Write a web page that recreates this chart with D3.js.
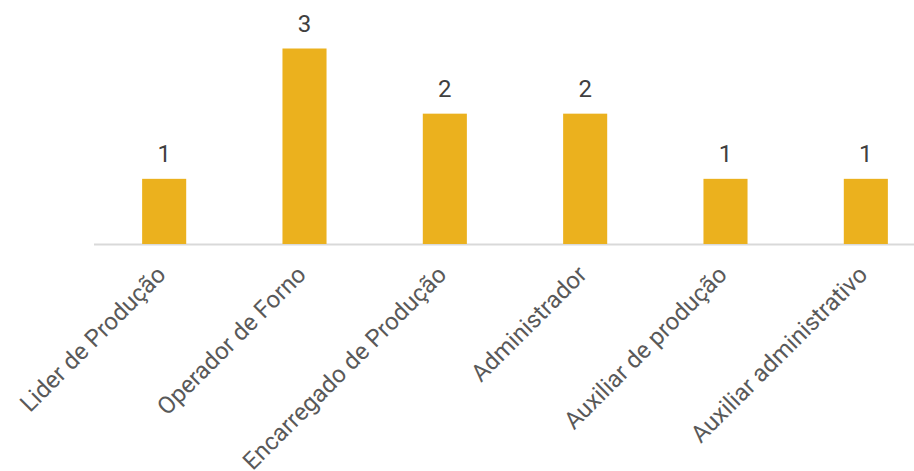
<!DOCTYPE html>
<html>
<head>
<meta charset="utf-8">
<script src="https://cdn.jsdelivr.net/npm/d3@7"></script>
<style>
  html, body { margin: 0; padding: 0; background: #fff; }
  svg { display: block; }
</style>
</head>
<body>
<svg id="chart" width="914" height="471"></svg>
<script>
const categories = ["Lider de Produção", "Operador de Forno", "Encarregado de Produção", "Administrador", "Auxiliar de produção", "Auxiliar administrativo"];
const values = [1, 3, 2, 2, 1, 1];

const W = 914, H = 471;
const svg = d3.select("#chart");
const font = "Roboto, 'Liberation Sans', sans-serif";

const x = d3.scaleBand().domain(categories).range([94, 936]).paddingInner(0.686).paddingOuter(0.343);
const y = d3.scaleLinear().domain([0, 3]).range([244, 48.5]);

// baseline
svg.append("line")
  .attr("x1", 94).attr("x2", W)
  .attr("y1", y(0) + 0.5).attr("y2", y(0) + 0.5)
  .attr("stroke", "#D9D9D9").attr("stroke-width", 2);

svg.selectAll("rect.bar").data(values).enter().append("rect")
  .attr("class", "bar")
  .attr("x", (d, i) => x(categories[i]))
  .attr("width", x.bandwidth())
  .attr("y", d => y(d))
  .attr("height", d => y(0) - y(d))
  .attr("fill", "#EBB11E");

svg.selectAll("text.val").data(values).enter().append("text")
  .attr("class", "val")
  .attr("x", (d, i) => x(categories[i]) + x.bandwidth() / 2)
  .attr("y", d => y(d) - 17)
  .attr("text-anchor", "middle")
  .attr("font-family", font)
  .attr("font-size", 24)
  .attr("fill", "#404040")
  .text(d => d);

svg.selectAll("text.cat").data(categories).enter().append("text")
  .attr("class", "cat")
  .attr("transform", d => `translate(${x(d) + x.bandwidth() / 2 + 3},${276}) rotate(-45)`)
  .attr("text-anchor", "end")
  .attr("font-family", font)
  .attr("font-size", 24)
  .attr("fill", "#595959")
  .text(d => d);
</script>
</body>
</html>
